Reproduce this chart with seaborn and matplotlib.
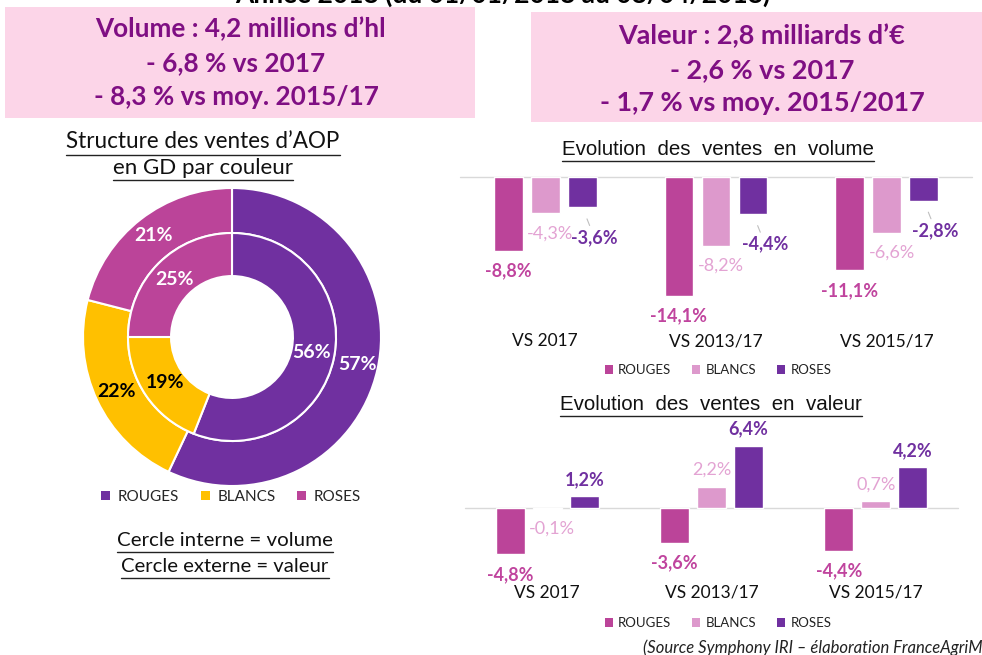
import matplotlib
matplotlib.use("Agg")
import matplotlib.pyplot as plt
import seaborn as sns
import pandas as pd
import numpy as np
from matplotlib.patches import Rectangle, Patch
from matplotlib.lines import Line2D

# ---------------- data ----------------
couleurs = ["ROUGES", "BLANCS", "ROSES"]
periodes = ["VS 2017", "VS 2013/17", "VS 2015/17"]
part_valeur = [57, 22, 21]      # outer ring
part_volume = [56, 19, 25]      # inner ring
vol_rouges = [-8.8, -14.1, -11.1]
vol_blancs = [-4.3, -8.2, -6.6]
vol_roses = [-3.6, -4.4, -2.8]
val_rouges = [-4.8, -3.6, -4.4]
val_blancs = [-0.1, 2.2, 0.7]
val_roses = [1.2, 6.4, 4.2]

titre = "Année 2018 (du 01/01/2018 au 08/04/2018)"
box_left = ["Volume : 4,2 millions d\u2019hl", "- 6,8 % vs 2017", "- 8,3 % vs moy. 2015/17"]
box_right = ["Valeur : 2,8 milliards d\u2019\u20ac", "- 2,6 % vs 2017", "- 1,7 % vs moy. 2015/2017"]

# ---------------- style ----------------
sns.set_theme(style="white")
plt.rcParams["font.family"] = ["Lato", "DejaVu Sans"]

W, H = 982, 655
fig = plt.figure(figsize=(W / 100, H / 100), dpi=100)
fig.patch.set_facecolor("white")

PINK_BOX = "#FCD5E8"
TXT_PURPLE = "#7F0F83"
PIE_COLS = ["#7030A0", "#FFC000", "#BB4499"]
BAR_COLS = ["#BB4499", "#DD99CC", "#7030A0"]
LAB_COLS = ["#C0449E", "#E3A3D3", "#7030A0"]


def rect(x0, y0, x1, y1):
    return [x0 / W, 1 - y1 / H, (x1 - x0) / W, (y1 - y0) / H]


def fx(x):
    return x / W


def fy(y):
    return 1 - y / H


renderer = fig.canvas.get_renderer()


def fit(t, target_w):
    bb = t.get_window_extent(renderer)
    t.set_fontsize(t.get_fontsize() * target_w / bb.width)
    return t


def underline(t, off=2, lw=1.0):
    bb = t.get_window_extent(renderer)
    y = bb.y0 - off
    fig.add_artist(Line2D([bb.x0 / W, bb.x1 / W], [y / H, y / H],
                          transform=fig.transFigure, color="#222222", lw=lw))


def ftext(x, y, s, size, w=None, **kw):
    t = fig.text(fx(x), fy(y), s, fontsize=size, ha="center", va="center", **kw)
    if w is not None:
        fit(t, w)
    return t


# ---------------- title (clipped at top) ----------------
t = fig.text(fx(503), fy(3), titre, fontsize=20, fontweight="bold",
             ha="center", va="baseline", color="black")
fit(t, 537)

# ---------------- pink boxes ----------------
fig.add_artist(Rectangle((fx(5), fy(118)), (475 - 5) / W, (118 - 7) / H,
                         transform=fig.transFigure, facecolor=PINK_BOX, edgecolor="none"))
fig.add_artist(Rectangle((fx(531), fy(122)), (990 - 531) / W, (122 - 12) / H,
                         transform=fig.transFigure, facecolor=PINK_BOX, edgecolor="none"))
tl = ftext(240, 29, box_left[0], 16, w=291, fontweight="bold", color=TXT_PURPLE)
size_l = tl.get_fontsize()
for s, y in zip(box_left[1:], [63, 97]):
    ftext(236, y, s, size_l, fontweight="bold", color=TXT_PURPLE)
tr = ftext(762, 36, box_right[0], 16, w=288, fontweight="bold", color=TXT_PURPLE)
size_r = tr.get_fontsize()
for s, y in zip(box_right[1:], [70, 103]):
    ftext(762, y, s, size_r, fontweight="bold", color=TXT_PURPLE)

# ---------------- donut ----------------
t1 = ftext(203, 142, "Structure des ventes d\u2019AOP", 13, w=274, color="#111111")
t2 = ftext(203, 168, "en GD par couleur", 13, w=179, color="#111111")
underline(t1)
underline(t2)

R = 149
cx, cy = 232, 337
axp = fig.add_axes(rect(cx - R, cy - R, cx + R, cy + R))
w_out, _, at_out = axp.pie(part_valeur, colors=PIE_COLS, radius=1.0, startangle=90,
                           counterclock=False, autopct=lambda p: f"{p:.0f}%",
                           pctdistance=0.86,
                           wedgeprops=dict(width=0.302, edgecolor="white", linewidth=1.5))
w_in, _, at_in = axp.pie(part_volume, colors=PIE_COLS, radius=0.698, startangle=90,
                         counterclock=False, autopct=lambda p: f"{p:.0f}%",
                         pctdistance=0.78,
                         wedgeprops=dict(width=0.289, edgecolor="white", linewidth=1.5))
for i, tt in enumerate(list(at_out) + list(at_in)):
    tt.set_fontsize(14)
    tt.set_fontweight("bold")
    tt.set_color("black" if i % 3 == 1 else "white")
axp.set_xlim(-1, 1)
axp.set_ylim(-1, 1)
axp.set_aspect("equal")
axp.axis("off")

handles = [Patch(facecolor=c, edgecolor="none") for c in PIE_COLS]
fig.legend(handles, couleurs, loc="center", bbox_to_anchor=(fx(231), fy(497)),
           ncol=3, frameon=False, fontsize=11, handlelength=0.6, handleheight=0.6,
           handletextpad=0.5, columnspacing=1.4)

t3 = ftext(225, 541, "Cercle interne = volume", 13, w=215, color="#111111")
t4 = ftext(225, 567, "Cercle externe = valeur", 13, w=207, color="#111111")
underline(t3)
underline(t4)


# ---------------- bar charts ----------------
def long_df(r, b, s):
    rows = []
    for vals, c in zip([r, b, s], couleurs):
        for p, v in zip(periodes, vals):
            rows.append({"periode": p, "couleur": c, "valeur": v})
    return pd.DataFrame(rows)


LFS = 13


def bar_chart(box, df, ylim, width, title_xy, title_w, title, legend_y, pxu, roses_leader):
    ax = fig.add_axes(rect(*box))
    sns.barplot(data=df, x="periode", y="valeur", hue="couleur", order=periodes,
                hue_order=couleurs, palette=BAR_COLS, width=width, gap=0.22,
                saturation=1, legend=False, ax=ax, errorbar=None)
    ax.set_xlim(-0.5, 2.5)
    ax.set_ylim(*ylim)
    ax.axhline(0, color="#D9D9D9", lw=1.0, zorder=0, clip_on=False)
    for sp in ax.spines.values():
        sp.set_visible(False)
    ax.set_yticks([])
    ax.set_xlabel("")
    ax.set_ylabel("")
    ax.tick_params(axis="x", length=0, labelsize=12.5, colors="#111111")
    ax.set_facecolor("none")
    # labels
    for ci, cont in enumerate(ax.containers):
        col = LAB_COLS[ci]
        fw = "normal" if ci == 1 else "bold"
        for bar in cont:
            v = bar.get_height()
            xc = bar.get_x() + bar.get_width() / 2
            lab = f"{v:.1f}%".replace(".", ",")
            if v < 0:
                if ci == 2 and roses_leader:
                    dy = 30 / pxu
                    ax.annotate(lab, xy=(xc, v), xytext=(xc + 0.07, v - dy),
                                ha="center", va="center", fontsize=LFS,
                                fontweight=fw, color=col,
                                arrowprops=dict(arrowstyle="-", color="#BFBFBF", lw=0.8,
                                                shrinkA=0, shrinkB=9))
                else:
                    ax.text(xc + (0.03 if ci == 1 else 0), v - 20 / pxu, lab,
                            ha="center", va="center", fontsize=LFS, fontweight=fw, color=col)
            else:
                ax.text(xc, v + 17 / pxu, lab, ha="center", va="center",
                        fontsize=LFS, fontweight=fw, color=col)
    tt = ftext(title_xy[0], title_xy[1], title, 13, w=title_w, color="#111111",
               family=["Liberation Sans", "DejaVu Sans"])
    underline(tt)
    handles = [Patch(facecolor=c, edgecolor="none") for c in BAR_COLS]
    fig.legend(handles, couleurs, loc="center", bbox_to_anchor=(fx(718), fy(legend_y)),
               ncol=3, frameon=False, fontsize=9.5, handlelength=0.6, handleheight=0.6,
               handletextpad=0.4, columnspacing=1.6, labelcolor="#222222")
    return ax


df_vol = long_df(vol_rouges, vol_blancs, vol_roses)
df_val = long_df(val_rouges, val_blancs, val_roses)

pxu_vol = 8.41
ax1 = bar_chart((460, 177, 972, 322), df_vol, (-(322 - 177) / pxu_vol, 0), 0.651,
                (718, 150), 311, "Evolution  des  ventes  en  volume", 370, pxu_vol, True)
ax1.tick_params(axis="x", pad=8)

pxu_val = 9.68
ax2 = bar_chart((465, 425, 958, 582), df_val, (-(582 - 508) / pxu_val, (508 - 425) / pxu_val),
                0.677, (711, 404), 301, "Evolution  des  ventes  en  valeur", 623, pxu_val, False)
ax2.tick_params(axis="x", pad=2)

# ---------------- source ----------------
fig.text(fx(643), fy(648), "(Source Symphony IRI \u2013 élaboration FranceAgriMer)",
         fontsize=12, style="italic", ha="left", va="center", color="#222222")

fig.savefig("out.png", dpi=100)
